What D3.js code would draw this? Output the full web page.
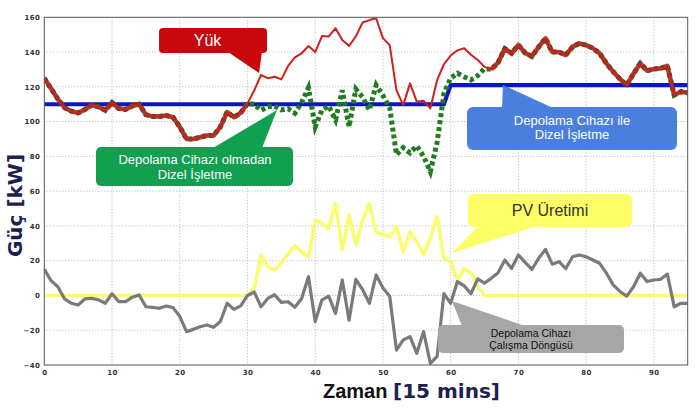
<!DOCTYPE html>
<html><head><meta charset="utf-8">
<script src="https://cdn.jsdelivr.net/npm/d3@7"></script>
<style>body{margin:0;background:#fff}svg{display:block}</style>
</head><body><svg id="c" width="697" height="409"></svg>
<script>
// ---- data ----
const time = d3.range(0, 96);
const load = [
125,119,113,108,106,105,107,109.5,108.5,106.5,
111,107.5,107,109,110,104,103,103,103.5,102.5,
97,90,90,91,92,92,97,105.5,102.5,105,
110.5,118,126.8,125,125.8,124.3,132,137,139.3,143.5,
140,149.2,149,153.7,147,143.5,149,157,158.4,159.4,
148,144,118,109.5,122,111.5,112,107.6,123.9,133,
138,141,142.2,138.5,135.4,131.5,130,134,142,139.3,
144.1,139.5,137.5,143,147.9,140,140,138.3,143,145,
144,142.2,139.3,133.5,128.7,124.5,121,127.5,133.5,129.3,
130.3,130.6,132,115.3,117.2,116.6];
const dieselNoStorage = [
125,119,113,108,106,105,107,109.5,108.5,106.5,
111,107.5,107,109,110,104,103,103,103.5,102.5,
97,90,90,91,92,92,97,105.5,102.5,105,
110.5,110,106.5,108.5,109,106.7,107.5,104.8,111,119.5,
97,106.7,109,101,118,97,118.7,114,106.7,121,
115,108,81,85,82,86,80,71.2,88,116,
125,127.8,125.8,124,126.5,130.5,130,134,142,139.3,
144.1,139.5,137.5,143,147.9,140,140,138.3,143,145,
144,142.2,139.3,133.5,128.7,124.5,121,127.5,133.5,129.3,
130.3,130.6,132,115.3,117.2,116.6];
const dieselWithStorage = [
110,110,110,110,110,110,110,110,110,110,
110,110,110,110,110,110,110,110,110,110,
110,110,110,110,110,110,110,110,110,110,
110,110,110,110,110,110,110,110,110,110,
110,110,110,110,110,110,110,110,110,110,
110,110,110,110,110,110,110,110,110,110,
121,121,121,121,121,121,121,121,121,121,
121,121,121,121,121,121,121,121,121,121,
121,121,121,121,121,121,121,121,121,121,
121,121,121,121,121,121];
const pvGeneration = [
0,0,0,0,0,0,0,0,0,0,
0,0,0,0,0,0,0,0,0,0,
0,0,0,0,0,0,0,0,0,0,
0,4,23,16.5,14.6,18.5,24,28.5,25,22,
43.4,41.5,38.6,53,26.2,46.3,29,43.4,53,36.6,
34.8,33.8,39.6,25.3,36.6,31,23.3,33,45.3,21,
19.4,9,15.5,13,5,0,0,0,0,0,
0,0,0,0,0,0,0,0,0,0,
0,0,0,0,0,0,0,0,0,0,
0,0,0,0,0,0];
const storageCycle = [
15,8.5,5,-2,-4.5,-5.5,-2,-1.7,-2.5,-4.5,
1,-3.6,-3.6,-1,0.3,-6.5,-6.8,-7.4,-6.1,-7,
-12,-20.8,-19.5,-18,-17,-18.3,-15,-4.5,-8,-6,
0,2,-6.5,-1.7,0.4,-4,-3.6,-6.8,-1.7,10.8,
-15,-2.5,-0.4,-10.3,8.9,-14.2,9.3,3.3,-4.5,11.8,
4.3,-0.4,-31.4,-25.6,-23.7,-33.3,-20.8,-39,-35,1.1,
-4.5,8,5.5,1,9.5,7.1,9.9,13,20.4,15.5,
23.3,19,15,21.4,26.5,18,19.4,15.5,22.3,23.3,
22.3,20.4,18.5,12.8,6.1,2.3,-0.4,5,12.8,8,
8.9,9.3,12.3,-6.5,-4.5,-4.5];
const xTicks = [0,10,20,30,40,50,60,70,80,90];
const yTicks = [-40,-20,0,20,40,60,80,100,120,140,160];
const labels = {
  load: "Yük",
  noStorage: ["Depolama Cihazı olmadan", "Dizel İşletme"],
  withStorage: ["Depolama Cihazı ile", "Dizel İşletme"],
  pv: "PV Üretimi",
  storage: ["Depolama Cihazı", "Çalışma Döngüsü"],
  yTitle: ["Güç ", "[kW]"],
  xTitle: ["Zaman ", "[15 mins]"]
};

// ---- layout ----
const svg = d3.select("#c");
const L = 44.3, R = 687.7, T = 17.3, B = 365;
const x = d3.scaleLinear().domain([0, 95]).range([L, R]);
const y = d3.scaleLinear().domain([-40, 160]).range([B, T]);

svg.append("defs").append("clipPath").attr("id", "clip")
  .append("rect").attr("x", L).attr("y", T).attr("width", R - L).attr("height", B - T);

// grid
const grid = svg.append("g");
grid.selectAll(".vg").data(xTicks.filter(d => d > 0)).join("line")
  .attr("x1", d => x(d)).attr("x2", d => x(d)).attr("y1", T).attr("y2", B)
  .attr("stroke", "#b0b0b0").attr("stroke-dasharray", "1,2").attr("stroke-width", 1);
grid.selectAll(".hg").data(yTicks.filter(d => d > -40 && d < 160)).join("line")
  .attr("x1", L).attr("x2", R).attr("y1", d => y(d)).attr("y2", d => y(d))
  .attr("stroke", "#b0b0b0").attr("stroke-dasharray", "1,2").attr("stroke-width", 1);

// axes tick labels
const yAxis = svg.append("g").attr("transform", `translate(${L},0)`)
  .call(d3.axisLeft(y).tickValues(yTicks).tickSize(0).tickPadding(4));
const xAxis = svg.append("g").attr("transform", `translate(0,${B})`)
  .call(d3.axisBottom(x).tickValues(xTicks).tickSize(0).tickPadding(5));
[yAxis, xAxis].forEach(a => {
  a.select(".domain").remove();
  a.selectAll("text").attr("font-family", "DejaVu Sans, sans-serif")
    .attr("font-size", 7).attr("font-weight", "bold").attr("fill", "#333")
    .attr("letter-spacing", "0.4");
});

// lines
const plot = svg.append("g").attr("clip-path", "url(#clip)");
const mk = arr => d3.line().x((d, i) => x(time[i])).y(d => y(d))(arr);

plot.append("path").attr("d", mk(pvGeneration)).attr("fill", "none")
  .attr("stroke", "#fbfb6e").attr("stroke-width", 3.5).attr("stroke-linejoin", "round");
plot.append("path").attr("d", mk(storageCycle)).attr("fill", "none")
  .attr("stroke", "#7a7a7a").attr("stroke-width", 3.2).attr("stroke-linejoin", "round");
plot.append("path").attr("d", mk(dieselWithStorage)).attr("fill", "none")
  .attr("stroke", "#0a16c4").attr("stroke-width", 4.2);
plot.append("path").attr("d", mk(dieselNoStorage)).attr("fill", "none")
  .attr("stroke", "#237a23").attr("stroke-width", 5).attr("stroke-dasharray", "4,3");
// overlap (diesel without storage == load)
const overlap = d3.line().defined((d, i) => dieselNoStorage[i] === load[i])
  .x((d, i) => x(time[i])).y(d => y(d));
plot.append("path").attr("d", overlap(load)).attr("fill", "none")
  .attr("stroke", "#8a2d1c").attr("stroke-width", 4.6).attr("stroke-opacity", 0.85)
  .attr("stroke-linejoin", "round");
plot.append("path").attr("d", mk(load)).attr("fill", "none")
  .attr("stroke", "#d0201e").attr("stroke-width", 2).attr("stroke-linejoin", "round");

// frame
svg.append("rect").attr("x", L).attr("y", T).attr("width", R - L).attr("height", B - T)
  .attr("fill", "none").attr("stroke", "#555").attr("stroke-width", 1);

// callouts
function callout(box, tri, fill, lines, opts) {
  const g = svg.append("g");
  g.append("rect").attr("x", box[0]).attr("y", box[1]).attr("width", box[2] - box[0])
    .attr("height", box[3] - box[1]).attr("rx", opts.r).attr("fill", fill);
  g.append("path").attr("d", "M" + tri.map(p => p.join(",")).join("L") + "Z").attr("fill", fill);
  lines.forEach((t, i) => {
    g.append("text").attr("x", opts.cx).attr("y", opts.y0 + i * opts.dy)
      .attr("text-anchor", "middle").attr("font-family", "Liberation Sans, Arial, sans-serif")
      .attr("font-size", opts.fs).attr("fill", opts.color).text(t);
  });
}
callout([159, 28, 267, 53], [[228, 52], [262, 52], [259, 73]], "#c8080c", [labels.load],
  {r: 4, cx: 207.5, y0: 46, dy: 0, fs: 16, color: "#fff"});
callout([96, 147, 293, 186], [[213, 148], [262, 148], [277, 110]], "#10a050", labels.noStorage,
  {r: 5, cx: 195, y0: 164, dy: 14.5, fs: 13, color: "#fff"});
callout([467, 107, 677, 150], [[502, 108], [553, 108], [503, 85]], "#4a7fe0", labels.withStorage,
  {r: 6, cx: 572, y0: 124.5, dy: 14.5, fs: 13, color: "#fff"});
callout([468, 194, 632, 227], [[478, 226], [537, 226], [452, 253]], "#fdfd66", [labels.pv],
  {r: 6, cx: 550, y0: 216, dy: 0, fs: 16, color: "#333"});
callout([438, 325, 624, 353], [[462, 326], [525, 326], [452, 301]], "#a6a6a6", labels.storage,
  {r: 5, cx: 531, y0: 337, dy: 12, fs: 10.5, color: "#111"});

// axis titles
const yt = svg.append("text").attr("transform", "translate(22,205.5) rotate(-90)")
  .attr("text-anchor", "middle").attr("font-family", "DejaVu Sans, sans-serif")
  .attr("font-weight", "bold").attr("font-size", 20).attr("fill", "#1c2152");
yt.append("tspan").text(labels.yTitle[0]);
yt.append("tspan").text(labels.yTitle[1]);

const xt = svg.append("text").attr("x", 323).attr("y", 398).attr("font-weight", "bold");
xt.append("tspan").attr("font-family", "Liberation Sans, Arial, sans-serif").attr("font-size", 20)
  .attr("fill", "#111").text(labels.xTitle[0]);
xt.append("tspan").attr("font-family", "DejaVu Sans, sans-serif").attr("font-size", 20)
  .attr("fill", "#1c2152").text(labels.xTitle[1]);
</script></body></html>
